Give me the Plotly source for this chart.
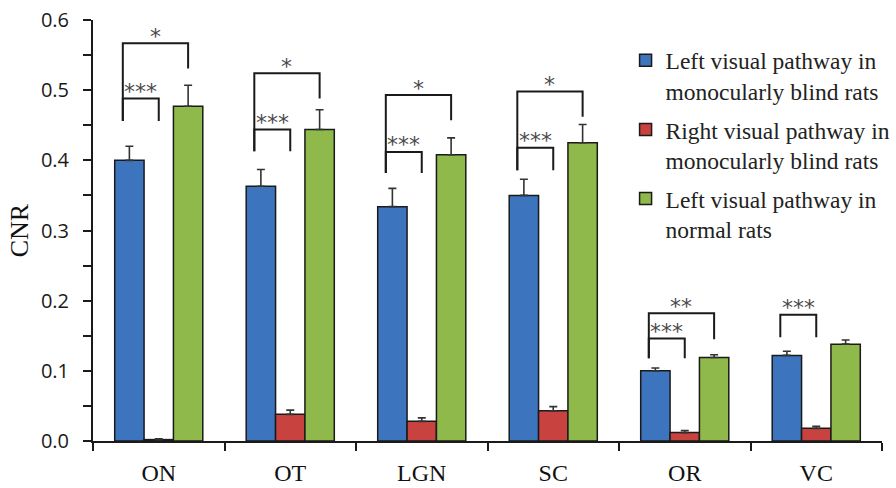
import plotly.graph_objects as go

# Regions of the visual pathway
regions = ["ON", "OT", "LGN", "SC", "OR", "VC"]

# Mean CNR per region and group, with SEM (upper error bars only)
left_blind = [0.400, 0.363, 0.334, 0.350, 0.100, 0.122]
left_blind_err = [0.020, 0.024, 0.026, 0.023, 0.004, 0.006]

right_blind = [0.002, 0.038, 0.028, 0.043, 0.012, 0.018]
right_blind_err = [0.001, 0.006, 0.005, 0.006, 0.003, 0.003]

left_normal = [0.477, 0.444, 0.408, 0.425, 0.119, 0.138]
left_normal_err = [0.030, 0.028, 0.024, 0.026, 0.004, 0.006]

series_names = [
    "Left visual pathway in<br>monocularly blind rats",
    "Right visual pathway in<br>monocularly blind rats",
    "Left visual pathway in<br>normal rats",
]

# Significance comparisons: (region index, from series, to series, label,
#                            bracket level, left leg end, right leg end)
comparisons = [
    (0, 0, 1, "***", 0.488, 0.456, 0.456),
    (0, 0, 2, "*", 0.567, 0.456, 0.531),
    (1, 0, 1, "***", 0.444, 0.413, 0.413),
    (1, 0, 2, "*", 0.524, 0.413, 0.488),
    (2, 0, 1, "***", 0.412, 0.382, 0.382),
    (2, 0, 2, "*", 0.493, 0.382, 0.457),
    (3, 0, 1, "***", 0.418, 0.386, 0.386),
    (3, 0, 2, "*", 0.498, 0.386, 0.462),
    (4, 0, 1, "***", 0.146, 0.118, 0.118),
    (4, 0, 2, "**", 0.182, 0.118, 0.145),
    (5, 0, 1, "***", 0.180, 0.148, 0.148),
]

colors = ["#3d74be", "#c8423f", "#8fb94b"]
values = [left_blind, right_blind, left_normal]
errors = [left_blind_err, right_blind_err, left_normal_err]

BARGAP = 0.33
bar_w = (1 - BARGAP) / 3

fig = go.Figure()
for k in range(3):
    fig.add_trace(go.Bar(
        x=regions,
        y=values[k],
        name=series_names[k],
        legendgroup=f"g{k}",
        marker=dict(color=colors[k], line=dict(color="#1a1a1a", width=1.5)),
        error_y=dict(
            type="data", symmetric=False,
            array=errors[k], arrayminus=[0] * len(regions),
            color="#333333", thickness=1.6, width=4,
        ),
    ))

# Significance brackets
for gi, a, b, label, top, lb, rb in comparisons:
    xa = gi + (a - 1) * bar_w - 0.05
    xb = gi + (b - 1) * bar_w
    fig.add_shape(
        type="path",
        path=f"M {xa},{lb} L {xa},{top} L {xb},{top} L {xb},{rb}",
        line=dict(color="#1a1a1a", width=2),
        xref="x", yref="y",
    )
    fig.add_annotation(
        x=(xa + xb) / 2, y=top, text=label, showarrow=False,
        xref="x", yref="y", yanchor="middle", yshift=7,
        font=dict(family="DejaVu Sans", size=22, color="#4a4a4a"),
    )

fig.update_layout(
    width=896, height=488,
    margin=dict(l=93, r=14, t=20, b=47, autoexpand=False),
    paper_bgcolor="white", plot_bgcolor="white",
    barmode="group", bargap=BARGAP, bargroupgap=0,
    showlegend=True,
    legend=dict(
        x=0.675, y=0.956, xanchor="left", yanchor="top",
        font=dict(family="Liberation Serif", size=23.5, color="#222222"),
        valign="top", tracegroupgap=5,
        bgcolor="rgba(0,0,0,0)",
    ),
    xaxis=dict(
        type="category",
        range=[-0.5, 5.5],
        showline=True, linecolor="#1a1a1a", linewidth=2,
        ticks="outside", tickson="boundaries", ticklen=8, tickwidth=2,
        tickcolor="#1a1a1a",
        tickfont=dict(family="Liberation Serif", size=24, color="#111111"),
        ticklabelstandoff=9,
        showgrid=False, zeroline=False,
    ),
    yaxis=dict(
        range=[0, 0.6],
        tickvals=[0, 0.1, 0.2, 0.3, 0.4, 0.5, 0.6],
        tickformat=".1f",
        showline=True, linecolor="#1a1a1a", linewidth=2,
        ticks="outside", ticklen=8, tickwidth=2, tickcolor="#1a1a1a",
        minor=dict(dtick=0.05, ticks="outside", ticklen=8, tickwidth=2,
                   tickcolor="#1a1a1a"),
        tickfont=dict(family="Open Sans", size=20, color="#1a1a1a"),
        ticklabelstandoff=10,
        showgrid=False, zeroline=False,
        title=dict(text="CNR", standoff=5,
                   font=dict(family="Liberation Serif", size=26, color="#111111")),
    ),
)

fig.write_html("out.html")
